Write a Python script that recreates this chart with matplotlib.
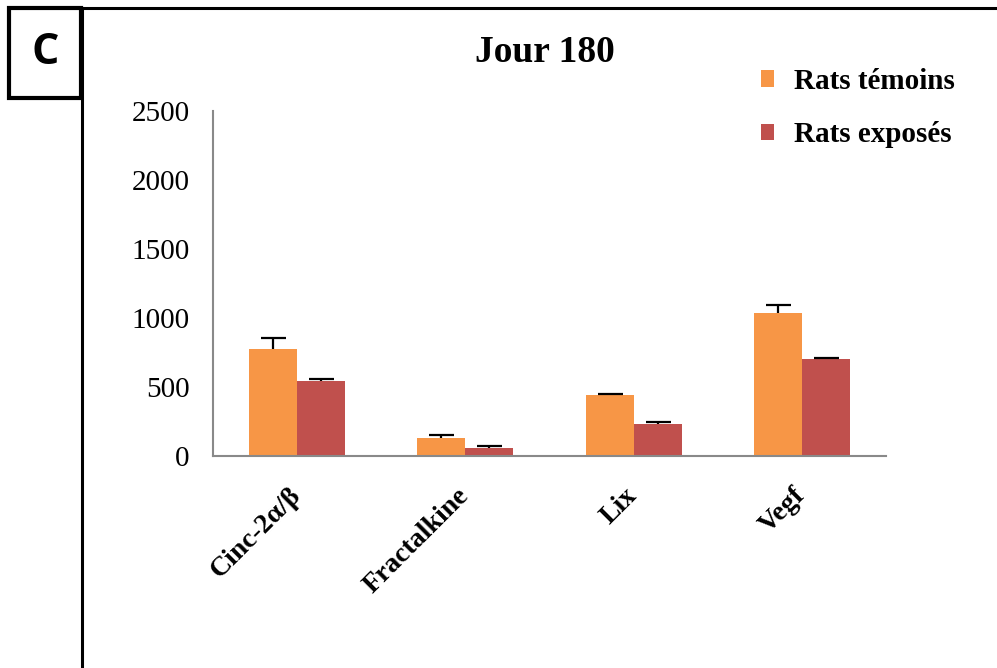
import matplotlib
matplotlib.use("Agg")
import matplotlib.pyplot as plt
from matplotlib.patches import Rectangle
from matplotlib.lines import Line2D
import numpy as np

categories = ["Cinc-2\u03b1/\u03b2", "Fractalkine", "Lix", "Vegf"]
temoins = [776, 130, 442, 1037]
temoins_err = [80, 22, 6, 58]
exposes = [544, 58, 232, 703]
exposes_err = [14, 12, 14, 5]
series_names = ["Rats t\u00e9moins", "Rats expos\u00e9s"]

orange = "#F79646"
red = "#C0504D"
serif = "Liberation Serif"

fig = plt.figure(figsize=(9.97, 6.68), dpi=100)
ax = fig.add_axes([213 / 997, 1 - 456 / 668, 673 / 997, 345 / 668])

x = np.arange(len(categories))
w = 0.285
ekw = dict(elinewidth=1.6, capthick=1.6, capsize=9, ecolor="black")
bars = []
for off, vals, errs, col in [(-w / 2, temoins, temoins_err, orange),
                             (w / 2, exposes, exposes_err, red)]:
    b = ax.bar(x + off, vals, w, color=col,
               yerr=[np.zeros(len(x)), errs], error_kw=ekw, zorder=2)
    # only the upper half of each error bar is shown
    caps = b.errorbar.lines[1]
    caps[0].set_visible(False)
    bars.append(b)

ax.set_xlim(-0.5, 3.5)
ax.set_ylim(0, 2500)
ax.set_yticks(np.arange(0, 2501, 500))
for s in ["top", "right"]:
    ax.spines[s].set_visible(False)
for s in ["left", "bottom"]:
    ax.spines[s].set_color("#898989")
    ax.spines[s].set_linewidth(1.5)
ax.tick_params(axis="both", length=0)
ax.tick_params(axis="y", pad=17)
ax.tick_params(axis="x", pad=26)
for t in ax.get_yticklabels():
    t.set_fontfamily(serif)
    t.set_fontsize(21)
ax.set_xticks(x)
ax.set_xticklabels(categories, rotation=45, ha="right", va="center",
                   rotation_mode="anchor", fontfamily=serif,
                   fontweight="bold", fontsize=20)

fig.text(545 / 997, 1 - 53 / 668, "Jour 180", fontfamily=serif,
         fontweight="bold", fontsize=27, ha="center", va="center")

ax.legend(bars, series_names, loc="upper left",
          bbox_to_anchor=(749 / 997, 1 - 56 / 668),
          bbox_transform=fig.transFigure, frameon=False,
          prop=dict(family=serif, weight="bold", size=21),
          handlelength=0.45, handleheight=0.5, handletextpad=0.7,
          labelspacing=0.92, borderaxespad=0)

# panel frame and letter box
fig.add_artist(Line2D([82 / 997, 82 / 997], [0, 1 - 8 / 668],
                      color="black", lw=2.2, transform=fig.transFigure))
fig.add_artist(Line2D([82 / 997, 1], [1 - 8 / 668, 1 - 8 / 668],
                      color="black", lw=2.2, transform=fig.transFigure))
fig.add_artist(Rectangle((9 / 997, 1 - 98 / 668), 72 / 997, 90 / 668,
                         fill=False, ec="black", lw=3,
                         transform=fig.transFigure))
fig.text(45 / 997, 1 - 52 / 668, "C", fontfamily="Open Sans",
         fontweight="bold", fontsize=31, ha="center", va="center")

fig.savefig("out.png", dpi=100)
